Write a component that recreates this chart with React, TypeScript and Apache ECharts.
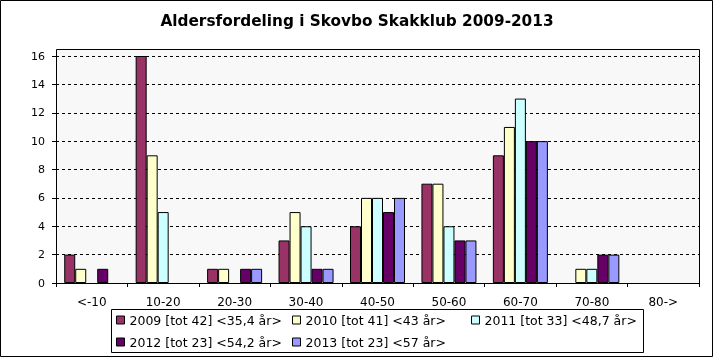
import React, { useEffect, useRef } from "react";
import * as echarts from "echarts";

const title = "Aldersfordeling i Skovbo Skakklub 2009-2013";
const categories = ["<-10", "10-20", "20-30", "30-40", "40-50", "50-60", "60-70", "70-80", "80->"];
const seriesNames = [
  "2009 [tot 42] <35,4 år>",
  "2010 [tot 41] <43 år>",
  "2011 [tot 33] <48,7 år>",
  "2012 [tot 23] <54,2 år>",
  "2013 [tot 23] <57 år>",
];
const v2009 = [2, 16, 1, 3, 4, 7, 9, 0, 0];
const v2010 = [1, 9, 1, 5, 6, 7, 11, 1, 0];
const v2011 = [0, 5, 0, 4, 6, 4, 13, 1, 0];
const v2012 = [1, 0, 1, 1, 5, 3, 10, 2, 0];
const v2013 = [0, 0, 1, 1, 6, 3, 10, 2, 0];
const seriesValues = [v2009, v2010, v2011, v2012, v2013];
const colors = ["#993366", "#FFFFCC", "#CCFFFF", "#660066", "#9999FF"];
const yTicks = { min: 0, max: 16, interval: 2 };

const FONT = "DejaVu Sans";

export default function App() {
  const ref = useRef<HTMLDivElement>(null);
  useEffect(() => {
    if (!ref.current) return;
    const chart = echarts.init(ref.current, undefined, { renderer: "svg" });
    const legendBase = {
      orient: "vertical" as const,
      top: 312,
      itemWidth: 8,
      itemHeight: 8,
      itemGap: 6,
      icon: "rect",
      itemStyle: { borderColor: "#000", borderWidth: 1 },
      textStyle: { fontFamily: FONT, fontSize: 12.5, color: "#000", lineHeight: 16 },
      padding: 0,
    };
    chart.setOption({
      animation: false,
      textStyle: { fontFamily: FONT },
      title: {
        text: title,
        left: "center",
        top: 8,
        textStyle: { fontFamily: FONT, fontSize: 15.3, fontWeight: "bold", color: "#000" },
      },
      grid: { left: 56, right: 15, top: 56, bottom: 75, containLabel: false },
      legend: [
        { ...legendBase, left: 116, data: [seriesNames[0], seriesNames[3]] },
        { ...legendBase, left: 292, data: [seriesNames[1], seriesNames[4]] },
        { ...legendBase, left: 471, data: [seriesNames[2]] },
      ],
      graphic: [
        {
          type: "rect",
          z: -10,
          silent: true,
          shape: { x: 56.5, y: 49.5, width: 643, height: 234 },
          style: { fill: "#F8F8F8", stroke: "#000", lineWidth: 1 },
        },
        {
          type: "rect",
          z: -10,
          silent: true,
          shape: { x: 111.5, y: 309.5, width: 532, height: 43 },
          style: { fill: "#fff", stroke: "#000", lineWidth: 1 },
        },
        {
          type: "rect",
          z: -20,
          silent: true,
          shape: { x: 0.5, y: 0.5, width: 712, height: 356 },
          style: { fill: "#fff", stroke: "#000", lineWidth: 1 },
        },
      ],
      xAxis: {
        type: "category",
        data: categories,
        axisLine: { lineStyle: { color: "#000", width: 1 } },
        axisTick: { show: true, length: 4, lineStyle: { color: "#000" } },
        axisLabel: { color: "#000", fontFamily: FONT, fontSize: 12, margin: 13 },
      },
      yAxis: {
        type: "value",
        min: yTicks.min,
        max: yTicks.max,
        interval: yTicks.interval,
        axisLine: { show: true, lineStyle: { color: "#000", width: 1 } },
        axisTick: { show: true, length: 4, lineStyle: { color: "#000" } },
        axisLabel: { color: "#000", fontFamily: FONT, fontSize: 11, margin: 11 },
        splitLine: { show: true, lineStyle: { color: "#000", type: [3, 3], width: 1 } },
      },
      series: seriesNames.map((name, i) => ({
        name,
        type: "bar",
        data: seriesValues[i].map((v) => (v === 0 ? null : v)),
        barWidth: 11,
        barGap: "0%",
        itemStyle: { color: colors[i], borderColor: "#000", borderWidth: 1 },
      })),
    });
    return () => chart.dispose();
  }, []);
  return (
    <div
      ref={ref}
      style={{ position: "fixed", left: 0, top: 0, width: 714, height: 358 }}
    />
  );
}
